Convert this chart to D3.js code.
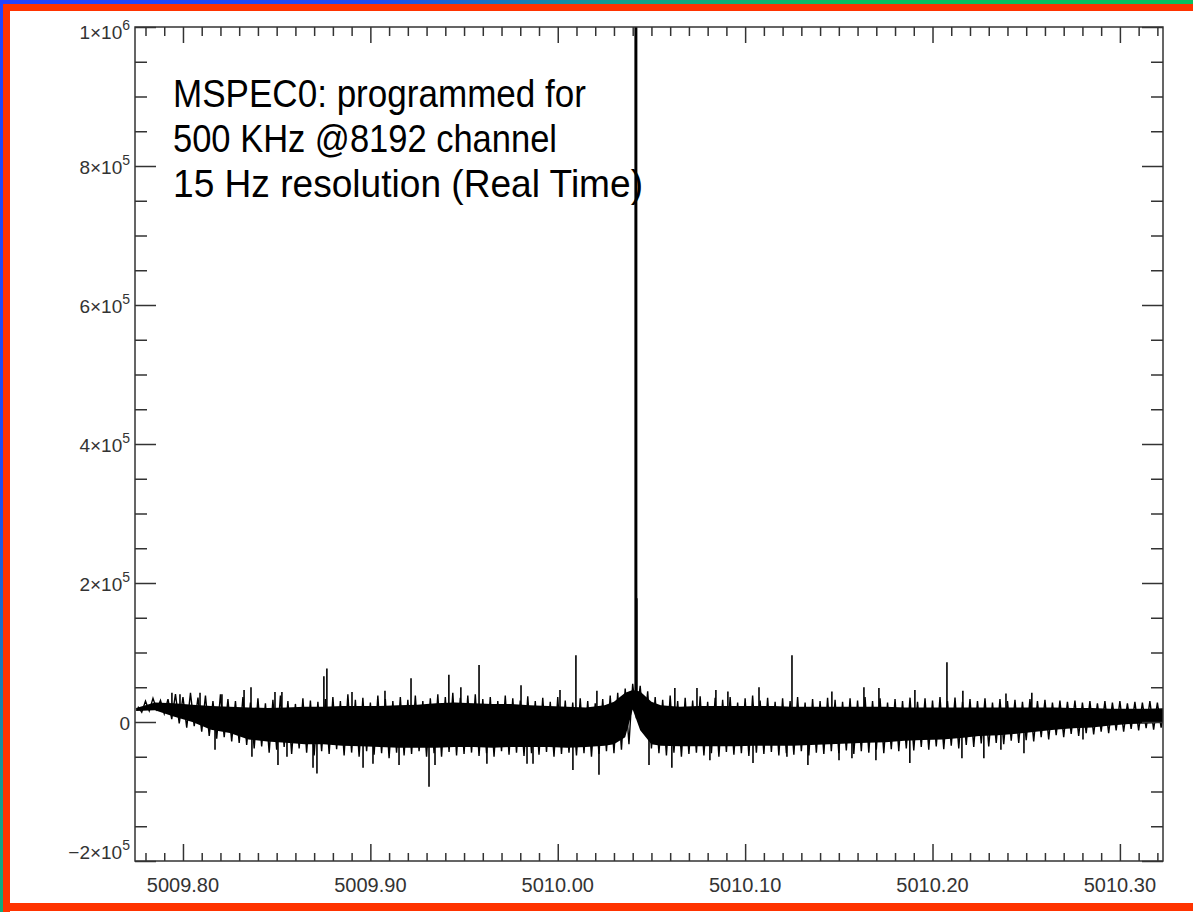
<!DOCTYPE html>
<html>
<head>
<meta charset="utf-8">
<script src="https://cdn.jsdelivr.net/npm/d3@7/dist/d3.min.js"></script>
<style>
  body { margin: 0; background: #fff; }
  svg { display: block; }
</style>
</head>
<body>
<svg id="chart"></svg>
<script>
// ---- data (frequency in MHz, amplitude in units of 1e3) ----

// solid core of the noise band
const bandFreq = [5009.775, 5009.785, 5009.795, 5009.805, 5009.815, 5009.825, 5009.835, 5009.845,
  5009.855, 5009.865, 5009.875, 5009.885, 5009.895, 5009.905, 5009.915, 5009.925, 5009.935,
  5009.945, 5009.955, 5009.965, 5009.975, 5009.985, 5009.995, 5010.005, 5010.015, 5010.025,
  5010.030, 5010.036, 5010.040, 5010.044, 5010.050, 5010.055, 5010.065, 5010.075, 5010.085,
  5010.095, 5010.105, 5010.115, 5010.125, 5010.135, 5010.145, 5010.155, 5010.165, 5010.175,
  5010.185, 5010.195, 5010.205, 5010.215, 5010.225, 5010.235, 5010.245, 5010.255, 5010.265,
  5010.275, 5010.285, 5010.295, 5010.305, 5010.315, 5010.325];
const bandHigh = [20, 28, 27, 25, 23, 22, 21, 20, 21, 22, 22, 23, 23, 23, 24, 25, 27, 28, 27, 26,
  26, 24, 23, 22, 21, 24, 29, 42, 46, 44, 29, 24, 22, 23, 23, 23, 23, 23, 22, 22, 22, 22, 22, 22,
  21, 21, 21, 21, 21, 21, 21, 21, 21, 20, 20, 19, 19, 19, 20];
const bandLow = [16, 17, 8, 0, -11, -16, -25, -28, -30, -32, -32, -34, -35, -36, -37, -37, -37,
  -36, -36, -37, -36, -36, -36, -37, -36, -34, -32, -22, 18, -12, -32, -34, -35, -35, -35, -35,
  -34, -34, -34, -33, -32, -31, -30, -29, -27, -26, -25, -23, -20, -19, -17, -14, -11, -9, -8,
  -5, -3, -2, -1];

// ragged edges of the trace: max / min channel every 0.004 MHz starting at 5009.776
const edgeStart = 5009.776, edgeStep = 0.004;
const edgeTop = [22, 30, 34, 31, 33, 40, 36, 42, 35, 38, 30, 40, 33, 30, 36, 28, 34, 27, 32, 38,
  30, 26, 34, 31, 29, 33, 36, 30, 40, 32, 35, 28, 38, 33, 30, 36, 32, 38, 30, 34, 40, 36, 42, 35,
  38, 40, 33, 36, 30, 38, 34, 31, 37, 30, 35, 29, 36, 31, 28, 34, 30, 27, 33, 38, 42, 48, 55, 52,
  44, 36, 32, 38, 30, 35, 31, 37, 29, 35, 32, 36, 28, 34, 38, 31, 35, 29, 34, 30, 36, 28, 33, 30,
  35, 32, 29, 34, 31, 36, 30, 34, 28, 33, 30, 35, 29, 34, 31, 36, 30, 35, 29, 33, 30, 34, 28, 33,
  30, 32, 29, 33, 30, 32, 28, 31, 29, 31, 28, 30, 27, 30, 28, 30, 27, 29, 28, 30, 28, 30];
const edgeBot = [14, 16, 18, 12, 4, -2, -8, -6, -14, -20, -24, -22, -28, -30, -33, -38, -35, -44,
  -40, -36, -46, -38, -44, -48, -42, -46, -39, -48, -44, -50, -42, -47, -45, -52, -44, -48, -46,
  -42, -50, -45, -50, -43, -48, -46, -44, -49, -45, -50, -42, -47, -44, -49, -45, -47, -43, -50,
  -46, -44, -48, -45, -50, -46, -42, -45, -40, -32, 5, -15, -38, -45, -48, -44, -50, -46, -44,
  -48, -45, -50, -43, -47, -45, -49, -44, -46, -43, -48, -45, -47, -42, -48, -44, -46, -42, -45,
  -41, -46, -42, -44, -40, -45, -39, -42, -38, -41, -36, -40, -35, -39, -34, -38, -33, -36, -31,
  -35, -30, -32, -27, -30, -26, -28, -22, -25, -19, -22, -17, -20, -16, -18, -14, -16, -12, -14,
  -10, -12, -9, -11, -8, -9];

// single channels that stick out of the noise band
const spikeFreq = [5009.7941, 5009.7984, 5009.8091, 5009.8208, 5009.8326, 5009.8363, 5009.8491,
  5009.8528, 5009.8752, 5009.8768, 5009.8902, 5009.9078, 5009.9217, 5009.9419, 5009.9483,
  5009.9580, 5009.9804, 5010.0012, 5010.0097, 5010.0209, 5010.0625, 5010.0743, 5010.0844,
  5010.0908, 5010.1074, 5010.1250, 5010.1463, 5010.1634, 5010.1714, 5010.1906, 5010.2077,
  5010.2162, 5010.2392, 5010.2530,
  5009.8171, 5009.8368, 5009.8507, 5009.8555, 5009.8694, 5009.8715, 5009.8961, 5009.9014,
  5009.9153, 5009.9313, 5009.9345, 5009.9622, 5009.9836, 5009.9868, 5010.0081, 5010.0220,
  5010.0487, 5010.0609, 5010.0812, 5010.1042, 5010.1223, 5010.1335, 5010.1501, 5010.1570,
  5010.1698, 5010.1879, 5010.2157, 5010.2274, 5010.2365, 5010.2488, 5010.2803];
const spikeVal = [42, 40, 42, 40, 46, 50, 43, 43, 66, 77, 43, 45, 63, 68, 50, 82, 53, 46, 96, 45,
  49, 49, 46, 44, 50, 96, 44, 50, 49, 46, 86, 45, 41, 42,
  -40, -50, -62, -50, -66, -74, -66, -60, -62, -93, -62, -60, -60, -60, -69, -76, -62, -66, -55,
  -59, -50, -62, -55, -52, -55, -59, -52, -52, -40, -45, -25];

// the carrier line and its neighbour channel
const peakFreq = [5010.0417, 5010.0423];
const peakVal = [1100, 178];

const yTicks = [-2e5, 0, 2e5, 4e5, 6e5, 8e5, 1e6];
const xTicks = [5009.80, 5009.90, 5010.00, 5010.10, 5010.20, 5010.30];
const noteLines = ["MSPEC0: programmed for", "500 KHz @8192 channel", "15 Hz resolution (Real Time)"];

// ---- layout ----
const width = 1193, height = 912;
const margin = {left: 135, top: 27, right: 1163, bottom: 861};

const svg = d3.select('#chart').attr('width', width).attr('height', height);

// coloured frame of the slide
const defs = svg.append('defs');
const grad = defs.append('linearGradient').attr('id', 'edge')
  .attr('gradientUnits', 'userSpaceOnUse')
  .attr('x1', 0).attr('y1', 0).attr('x2', width).attr('y2', height);
grad.append('stop').attr('offset', 0).attr('stop-color', '#2244ff');
grad.append('stop').attr('offset', 0.2).attr('stop-color', '#1f4cf2');
grad.append('stop').attr('offset', 0.33).attr('stop-color', '#12a08c');
grad.append('stop').attr('offset', 0.45).attr('stop-color', '#08c060');
grad.append('stop').attr('offset', 1).attr('stop-color', '#08c060');

svg.append('rect').attr('x', 0).attr('y', 0).attr('width', width).attr('height', 4).attr('fill', 'url(#edge)');
svg.append('rect').attr('x', 0).attr('y', 0).attr('width', 3).attr('height', height).attr('fill', 'url(#edge)');
svg.append('rect').attr('x', 3).attr('y', 4).attr('width', width - 3).attr('height', 7).attr('fill', '#ff3300');
svg.append('rect').attr('x', 3).attr('y', 4).attr('width', 7).attr('height', height - 4).attr('fill', '#ff3300');
svg.append('rect').attr('x', 3).attr('y', 903).attr('width', width - 3).attr('height', 8).attr('fill', '#ff3300');

const x = d3.scaleLinear().domain([5009.7744, 5010.3230]).range([margin.left, margin.right]);
const y = d3.scaleLinear().domain([-2e5, 1e6]).range([margin.bottom, margin.top]);

defs.append('clipPath').attr('id', 'plotclip').append('rect')
  .attr('x', margin.left).attr('y', margin.top)
  .attr('width', margin.right - margin.left).attr('height', margin.bottom - margin.top);

// ---- data ----
const plot = svg.append('g').attr('clip-path', 'url(#plotclip)');

const band = bandFreq.map((f, i) => ({f: f, hi: bandHigh[i] * 1e3, lo: bandLow[i] * 1e3}));
plot.append('path')
  .datum(band)
  .attr('fill', '#000')
  .attr('d', d3.area().x(d => x(d.f)).y0(d => y(d.lo)).y1(d => y(d.hi)));

// trace through the max/min of each channel group
const trace = [];
edgeTop.forEach((v, i) => {
  const f = edgeStart + i * edgeStep;
  trace.push({f: f, v: v * 1e3});
  trace.push({f: f + edgeStep / 2, v: edgeBot[i] * 1e3});
});
plot.append('path')
  .datum(trace)
  .attr('fill', 'none')
  .attr('stroke', '#000')
  .attr('stroke-width', 1.4)
  .attr('d', d3.line().x(d => x(d.f)).y(d => y(d.v)));

const mid = d3.scaleLinear().domain(bandFreq).range(bandFreq.map((f, i) => (bandHigh[i] + bandLow[i]) * 500));
const spikes = spikeFreq.map((f, i) => ({f: f, v: spikeVal[i] * 1e3}));
plot.selectAll('line.spike').data(spikes).enter().append('line')
  .attr('class', 'spike')
  .attr('x1', d => x(d.f)).attr('x2', d => x(d.f))
  .attr('y1', d => y(mid(d.f))).attr('y2', d => y(d.v))
  .attr('stroke', '#000').attr('stroke-width', 1.6);

const peaks = peakFreq.map((f, i) => ({f: f, v: peakVal[i] * 1e3}));
plot.selectAll('line.peak').data(peaks).enter().append('line')
  .attr('class', 'peak')
  .attr('x1', d => x(d.f)).attr('x2', d => x(d.f))
  .attr('y1', d => y(mid(d.f))).attr('y2', d => y(d.v))
  .attr('stroke', '#000').attr('stroke-width', (d, i) => i === 0 ? 3 : 1.2);

// ---- axes ----
const axisColor = '#333';
const styleAxis = g => {
  g.select('.domain').remove();
  g.selectAll('.tick line').attr('stroke', axisColor).attr('stroke-width', 1.5);
  g.selectAll('.tick text').remove();
};
const minorX = d3.range(5009.78, 5010.325, 0.01).filter(v => Math.abs(Math.round(v * 10) - v * 10) > 1e-6);
const minorY = d3.range(-2e5, 1e6 + 1, 5e4).filter(v => v % 2e5 !== 0);

svg.append('g').attr('transform', `translate(0,${margin.bottom})`)
  .call(d3.axisTop(x).tickValues(xTicks).tickSize(17)).call(styleAxis);
svg.append('g').attr('transform', `translate(0,${margin.bottom})`)
  .call(d3.axisTop(x).tickValues(minorX).tickSize(8)).call(styleAxis);
svg.append('g').attr('transform', `translate(0,${margin.top})`)
  .call(d3.axisBottom(x).tickValues(xTicks).tickSize(16)).call(styleAxis);
svg.append('g').attr('transform', `translate(0,${margin.top})`)
  .call(d3.axisBottom(x).tickValues(minorX).tickSize(9)).call(styleAxis);

svg.append('g').attr('transform', `translate(${margin.left},0)`)
  .call(d3.axisRight(y).tickValues(yTicks).tickSize(21)).call(styleAxis);
svg.append('g').attr('transform', `translate(${margin.left},0)`)
  .call(d3.axisRight(y).tickValues(minorY).tickSize(12)).call(styleAxis);
svg.append('g').attr('transform', `translate(${margin.right},0)`)
  .call(d3.axisLeft(y).tickValues(yTicks).tickSize(21)).call(styleAxis);
svg.append('g').attr('transform', `translate(${margin.right},0)`)
  .call(d3.axisLeft(y).tickValues(minorY).tickSize(12)).call(styleAxis);

svg.append('rect')
  .attr('x', margin.left).attr('y', margin.top)
  .attr('width', margin.right - margin.left).attr('height', margin.bottom - margin.top)
  .attr('fill', 'none').attr('stroke', axisColor).attr('stroke-width', 1.5);

// tick labels
svg.selectAll('text.xlab').data(xTicks).enter().append('text')
  .attr('class', 'xlab')
  .attr('x', d => x(d)).attr('y', 892)
  .attr('text-anchor', 'middle')
  .attr('font-family', 'Liberation Sans, Arial, sans-serif')
  .attr('font-size', 20).attr('fill', '#333')
  .text(d => d.toFixed(2));

const ylab = svg.selectAll('text.ylab').data(yTicks).enter().append('text')
  .attr('class', 'ylab')
  .attr('x', 130)
  .attr('y', d => d === 1e6 ? y(d) + 12 : d === -2e5 ? y(d) - 2 : y(d) + 8)
  .attr('text-anchor', 'end')
  .attr('font-family', 'Liberation Sans, Arial, sans-serif')
  .attr('font-size', 19).attr('fill', '#333');
ylab.each(function(d) {
  const t = d3.select(this);
  if (d === 0) { t.text('0'); return; }
  const e = Math.floor(Math.log10(Math.abs(d)));
  const m = Math.round(d / Math.pow(10, e));
  t.append('tspan').text((m < 0 ? '\u2212' + (-m) : m) + '\u00d710');
  t.append('tspan').attr('dy', -9).attr('font-size', 14).text(e);
});

// annotation
const noteWidths = [413, 384, 470];
svg.selectAll('text.note').data(noteLines).enter().append('text')
  .attr('class', 'note')
  .attr('x', 173).attr('y', (d, i) => 107 + i * 45)
  .attr('font-family', 'Liberation Sans, Arial, sans-serif')
  .attr('font-size', 39).attr('fill', '#000')
  .attr('textLength', (d, i) => noteWidths[i])
  .attr('lengthAdjust', 'spacingAndGlyphs')
  .text(d => d);
</script>
</body>
</html>
